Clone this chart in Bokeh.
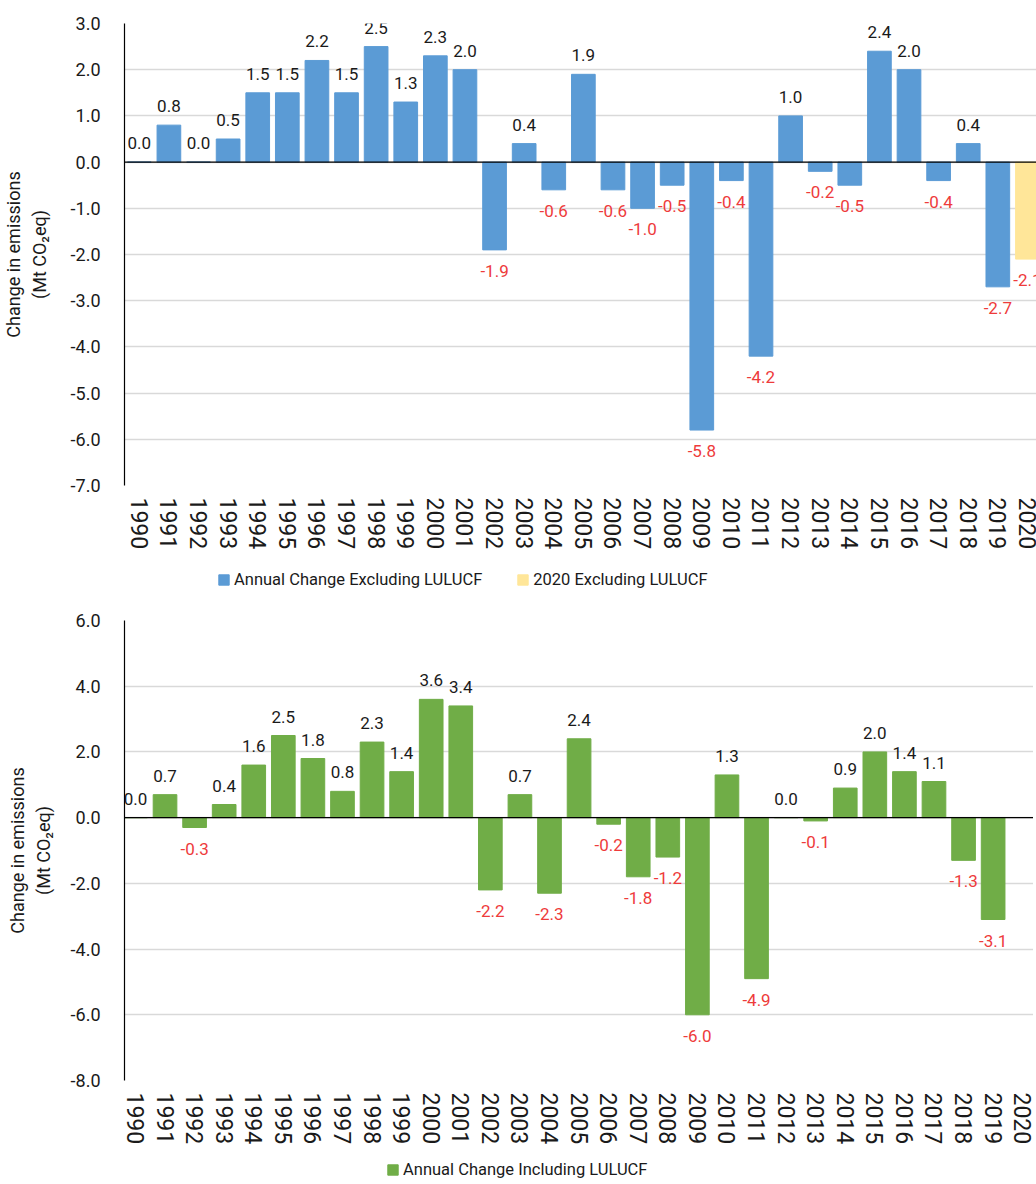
from bokeh.plotting import figure
from bokeh.models import (ColumnDataSource, LabelSet, Span, Legend, LegendItem,
                          FixedTicker, Range1d, NumeralTickFormatter)
from bokeh.core.properties import value
from bokeh.layouts import column
from bokeh.embed import file_html
from bokeh.resources import INLINE

# ---------------- data ----------------
years = list(range(1990, 2020))
excl_values = [0.0, 0.8, 0.0, 0.5, 1.5, 1.5, 2.2, 1.5, 2.5, 1.3,
               2.3, 2.0, -1.9, 0.4, -0.6, 1.9, -0.6, -1.0, -0.5, -5.8,
               -0.4, -4.2, 1.0, -0.2, -0.5, 2.4, 2.0, -0.4, 0.4, -2.7]
year_2020 = [2020]
excl_2020 = [-2.1]
incl_values = [0.0, 0.7, -0.3, 0.4, 1.6, 2.5, 1.8, 0.8, 2.3, 1.4,
               3.6, 3.4, -2.2, 0.7, -2.3, 2.4, -0.2, -1.8, -1.2, -6.0,
               1.3, -4.9, 0.0, -0.1, 0.9, 2.0, 1.4, 1.1, -1.3, -3.1]
all_years = list(range(1990, 2021))
top_ticks = [-7, -6, -5, -4, -3, -2, -1, 0, 1, 2, 3]
bottom_ticks = [-8, -6, -4, -2, 0, 2, 4, 6]

BLUE = "#5b9bd5"
YELLOW = "#ffe699"
GREEN = "#70ad47"
RED = "#ee3b3b"
TXT = "#1a1a1a"
FONT = "Roboto"


def style(p, ticks, label_standoff):
    p.xgrid.visible = False
    p.ygrid.ticker = FixedTicker(ticks=ticks)
    p.ygrid.grid_line_color = "#d9d9d9"
    p.ygrid.grid_line_width = 1.5
    p.outline_line_color = None
    p.yaxis.ticker = FixedTicker(ticks=ticks)
    p.yaxis.formatter = NumeralTickFormatter(format="0.0")
    p.yaxis.major_tick_line_color = None
    p.yaxis.minor_tick_line_color = None
    p.yaxis.axis_line_color = "black"
    p.yaxis.axis_line_width = 1.2
    p.yaxis.major_label_text_font = FONT
    p.yaxis.major_label_text_font_size = "18px"
    p.yaxis.major_label_text_color = TXT
    p.yaxis.major_label_standoff = 18
    p.yaxis.axis_label = "Change in emissions\n(Mt CO\u2082eq)"
    p.yaxis.axis_label_text_font = FONT
    p.yaxis.axis_label_text_font_style = "normal"
    p.yaxis.axis_label_text_font_size = "18px"
    p.yaxis.axis_label_text_color = TXT
    p.yaxis.axis_label_standoff = label_standoff
    p.xaxis.ticker = FixedTicker(ticks=all_years)
    p.xaxis.major_label_orientation = "vertical"
    p.xaxis.major_tick_line_color = None
    p.xaxis.minor_tick_line_color = None
    p.xaxis.axis_line_color = None
    p.xaxis.major_label_text_font = FONT
    p.xaxis.major_label_text_font_size = "23px"
    p.xaxis.major_label_text_color = TXT
    p.xaxis.major_label_standoff = 6
    p.add_layout(Span(location=0, dimension="width", line_color="black", line_width=1.2))


def add_labels(p, xs, vals):
    pos = [(x, v) for x, v in zip(xs, vals) if v >= 0]
    neg = [(x, v) for x, v in zip(xs, vals) if v < 0]
    ps = ColumnDataSource(dict(x=[a for a, b in pos], y=[b for a, b in pos],
                               t=["%.1f" % b for a, b in pos]))
    ns = ColumnDataSource(dict(x=[a for a, b in neg], y=[b for a, b in neg],
                               t=["%.1f" % b for a, b in neg]))
    common = dict(text_font=value(FONT), text_font_size=value("17px"),
                  text_align="center", text_baseline="middle")
    p.add_layout(LabelSet(x="x", y="y", text="t", source=ps, y_offset=19,
                          text_color=TXT, **common))
    p.add_layout(LabelSet(x="x", y="y", text="t", source=ns, y_offset=-21,
                          text_color=RED, **common))


def legend_fig(h, entries, x, y):
    # separate strip holding the legend; its renderers reuse the series data
    # but sit in a y-range far above the values, so only the legend shows
    lf = figure(width=1028, height=h, x_range=Range1d(1989.5, 2020.5),
                y_range=Range1d(100, 101), min_border=0,
                x_axis_location=None, y_axis_location=None,
                output_backend="svg", toolbar_location=None)
    lf.grid.visible = False
    lf.outline_line_color = None
    items = []
    for label, color, xs, vals in entries:
        r = lf.vbar(x=xs, top=vals, bottom=0, width=0.8,
                    fill_color=color, line_color=color)
        items.append(LegendItem(label=label, renderers=[r]))
    lg = Legend(items=items, location=(x, y), orientation="horizontal",
                label_text_font=FONT, label_text_font_size="16.5px",
                label_text_color=TXT, glyph_width=13, glyph_height=13,
                label_standoff=4, spacing=34, padding=4, margin=0,
                border_line_color=None, background_fill_alpha=0)
    lf.add_layout(lg)
    return lf


# ---------------- top chart ----------------
p1 = figure(frame_width=913, frame_height=462, min_border_left=115,
            min_border_right=0, min_border_top=23, min_border_bottom=65,
            x_range=Range1d(1989.5, 2020.34), y_range=Range1d(-7, 3),
            output_backend="svg", toolbar_location=None)
style(p1, top_ticks, 18)
p1.vbar(x=years, top=excl_values, bottom=0, width=0.8,
        fill_color=BLUE, line_color=BLUE)
p1.vbar(x=year_2020, top=excl_2020, bottom=0, width=0.8,
        fill_color=YELLOW, line_color=YELLOW)
add_labels(p1, years + year_2020, excl_values + excl_2020)
leg1 = legend_fig(50, [("Annual Change Excluding LULUCF", BLUE, years, excl_values),
                       ("2020 Excluding LULUCF", YELLOW, year_2020, excl_2020)], 93, 13)

# ---------------- bottom chart ----------------
p2 = figure(frame_width=913, frame_height=460, min_border_left=115,
            min_border_right=0, min_border_top=18, min_border_bottom=65,
            x_range=Range1d(1989.63, 2020.5), y_range=Range1d(-8, 6),
            output_backend="svg", toolbar_location=None)
style(p2, bottom_ticks, 14)
p2.vbar(x=years, top=incl_values, bottom=0, width=0.8,
        fill_color=GREEN, line_color=GREEN)
add_labels(p2, years, incl_values)
leg2 = legend_fig(37, [("Annual Change Including LULUCF", GREEN, years, incl_values)], 262, 5)

layout = column(p1, leg1, p2, leg2, spacing=0)
open("out.html", "w").write(file_html(layout, INLINE))
